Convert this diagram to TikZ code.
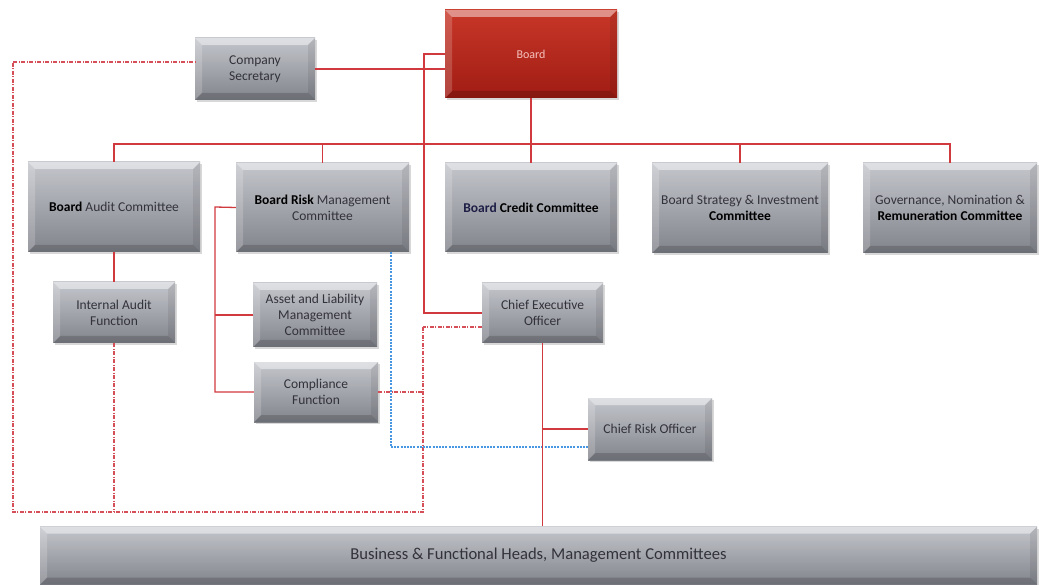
\documentclass[tikz,border=0pt]{standalone}
\usepackage{fontspec}
\setmainfont{Carlito}
\usetikzlibrary{shadows,calc}
\definecolor{boxtop}{RGB}{196,198,204}
\definecolor{boxmid}{RGB}{158,160,168}
\definecolor{boxbot}{RGB}{130,132,140}
\definecolor{redtop}{RGB}{200,55,40}
\definecolor{redbot}{RGB}{160,28,20}
\definecolor{boardtxt}{RGB}{245,195,190}
\definecolor{linered}{RGB}{208,58,62}
\definecolor{dashred}{RGB}{214,78,88}
\definecolor{txt}{RGB}{50,50,58}
\definecolor{dotblue}{RGB}{70,150,225}
\tikzset{
  bevelpic/.style={path picture={
    \fill[white,opacity=.45] (path picture bounding box.north west) -- (path picture bounding box.north east)
      -- ([xshift=-7pt,yshift=-7pt]path picture bounding box.north east) -- ([xshift=7pt,yshift=-7pt]path picture bounding box.north west) -- cycle;
    \fill[black,opacity=.16] (path picture bounding box.south west) -- (path picture bounding box.south east)
      -- ([xshift=-7pt,yshift=7pt]path picture bounding box.south east) -- ([xshift=7pt,yshift=7pt]path picture bounding box.south west) -- cycle;
    \fill[white,opacity=.18] (path picture bounding box.north west) -- ([xshift=7pt,yshift=-7pt]path picture bounding box.north west)
      -- ([xshift=7pt,yshift=7pt]path picture bounding box.south west) -- (path picture bounding box.south west) -- cycle;
    \fill[black,opacity=.08] (path picture bounding box.north east) -- ([xshift=-7pt,yshift=-7pt]path picture bounding box.north east)
      -- ([xshift=-7pt,yshift=7pt]path picture bounding box.south east) -- (path picture bounding box.south east) -- cycle;
  }},
  bx/.style={bevelpic, top color=boxtop, middle color=boxmid, bottom color=boxbot,
    drop shadow={shadow xshift=1.5pt, shadow yshift=-2pt, opacity=.3},
    align=center, text=txt, inner sep=0pt, font=\fontsize{13.5}{16}\selectfont},
  redbx/.style={bx, top color=redtop, middle color=redtop!85!redbot, bottom color=redbot, text=boardtxt, font=\fontsize{12}{14}\selectfont},
  rl/.style={draw=linered, line width=1.3pt},
  dd/.style={draw=dashred, line width=1.1pt, dash pattern=on 4pt off 1.5pt on 1pt off 1.5pt},
  bl/.style={draw=dotblue, line width=1.2pt, dash pattern=on 2pt off 1.2pt}
}
\begin{document}
\begin{tikzpicture}[x=1pt,y=-1pt]
\useasboundingbox[fill=white] (0,0) rectangle (1039,585);
% coordinates for junctions
\coordinate (k1) at (424,54);
\coordinate (bus) at (532,144);
\coordinate (k2) at (215,207);
\coordinate (k3) at (391,447);
\coordinate (k4) at (423,327);
\coordinate (k5) at (423,512);
\coordinate (k6) at (13,512);
\coordinate (k7) at (13,62);
\coordinate (k8) at (588,447);

% connectors drawn under boxes
\draw[dd] (k4) -- (k5) -- (k6) -- (k7);
\draw[bl] (k3) -- (k8);

% nodes
\node[bx, minimum width=120pt, minimum height=62pt] (cs) at (255,69) {Company\\Secretary};
\node[redbx, minimum width=172pt, minimum height=88pt] (board) at (531,54) {Board};
\node[bx, minimum width=172pt, minimum height=90pt] (bac) at (114,207) {\textbf{\color{black}Board} Audit Committee};
\node[bx, minimum width=173pt, minimum height=89pt] (brmc) at (322.5,207.5) {\textbf{\color{black}Board Risk} Management\\Committee};
\node[bx, minimum width=172pt, minimum height=89pt] (bcc) at (531,207.5) {\textbf{{\color[RGB]{30,30,70}Board} {\color{black}Credit Committee}}};
\node[bx, minimum width=176pt, minimum height=90pt] (bsic) at (740,208) {Board Strategy \& Investment\\\textbf{\color{black}Committee}};
\node[bx, minimum width=174pt, minimum height=90pt] (gnrc) at (950,208) {Governance, Nomination \&\\\textbf{\color{black}Remuneration Committee}};
\node[bx, minimum width=122pt, minimum height=61pt] (iaf) at (114,312.5) {Internal Audit\\Function};
\node[bx, minimum width=124pt, minimum height=64pt] (alm) at (315,315) {Asset and Liability\\Management\\Committee};
\node[bx, minimum width=124pt, minimum height=60pt] (comp) at (316,392) {Compliance\\Function};
\node[bx, minimum width=121pt, minimum height=60pt] (ceo) at (542.5,313) {Chief Executive\\Officer};
\node[bx, minimum width=124pt, minimum height=62pt] (cro) at (650,429) {Chief Risk Officer};
\node[bx, minimum width=997pt, minimum height=58pt, font=\fontsize{16.6}{18}\selectfont] (biz) at (538.5,555.5) {Business \& Functional Heads, Management Committees};

% solid red reporting lines
\draw[rl] (cs.east) -- (cs.east -| board.west);
\draw[rl] (board.west) -- (k1) |- (ceo.west);
\draw[rl] (board.south) -- (board.south |- bus);
\draw[rl] (bac.north) |- (bus) -| (gnrc.north);
\draw[rl] (brmc.north) -- (brmc.north |- bus);
\draw[rl] (bcc.north) -- (bcc.north |- bus);
\draw[rl] (bsic.north) -- (bsic.north |- bus);
\draw[rl] (bac.south) -- (iaf.north);
\draw[rl] (brmc.west) -- (k2) |- (comp.west);
\draw[rl] (k2 |- alm.west) -- (alm.west);
\draw[rl] (ceo.south) -- (ceo.south |- biz.north);
\draw[rl] (cro.west) -- (cro.west -| ceo.south);

% dotted / dashed lines
\draw[bl] (k3 |- brmc.south) -- (k3);
\draw[dd] (k4 -| ceo.west) -- (k4);
\draw[dd] (k7) -- (k7 -| cs.west);
\draw[dd] (comp.east) -- (comp.east -| k4);
\draw[dd] (iaf.south) -- (iaf.south |- k5);
\end{tikzpicture}
\end{document}
